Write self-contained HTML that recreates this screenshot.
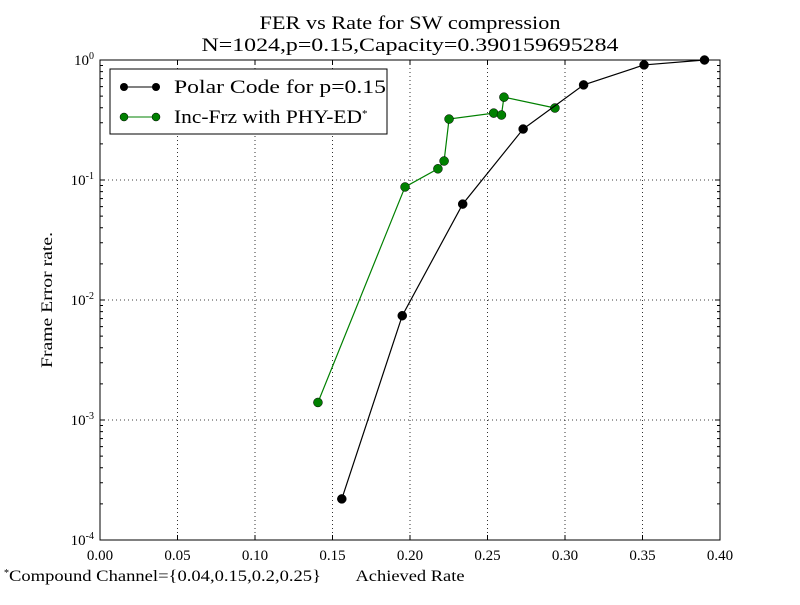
<!DOCTYPE html>
<html><head><meta charset="utf-8"><style>
body{margin:0;background:#fff;}
svg text{font-family:"Liberation Serif",serif;fill:#000;}
</style></head><body>
<svg id="chart" width="800" height="600" xmlns="http://www.w3.org/2000/svg">
<rect width="800" height="600" fill="#fff"/>
<text x="410" y="29" font-size="19" text-anchor="middle" textLength="301" lengthAdjust="spacingAndGlyphs">FER vs Rate for SW compression</text>
<text x="410" y="51" font-size="19" text-anchor="middle" textLength="417" lengthAdjust="spacingAndGlyphs">N=1024,p=0.15,Capacity=0.390159695284</text>
<g id="grid"></g>
<g id="ticks"></g>
<g id="series"></g>
<rect x="100" y="60" width="620" height="480" fill="none" stroke="#000" stroke-width="1"/>
<text transform="translate(52,300) rotate(-90)" font-size="16" text-anchor="middle" textLength="136" lengthAdjust="spacingAndGlyphs">Frame Error rate.</text>
<text x="410" y="581" font-size="16" text-anchor="middle" textLength="109" lengthAdjust="spacingAndGlyphs">Achieved Rate</text>
<text x="4" y="581" font-size="16"><tspan font-size="10" dy="-5">*</tspan><tspan dy="5" textLength="312" lengthAdjust="spacingAndGlyphs">Compound Channel={0.04,0.15,0.2,0.25}</tspan></text>
<g>
<rect x="110" y="69" width="277" height="65" fill="#fff" stroke="#000"/>
<g>
<line x1="120" y1="87" x2="160" y2="87" stroke="#000"/><circle cx="124" cy="87" r="4" fill="#000"/><circle cx="156" cy="87" r="4" fill="#000"/>
<text x="174" y="93" font-size="19" textLength="212" lengthAdjust="spacingAndGlyphs">Polar Code for p=0.15</text></g>
<g>
<line x1="120" y1="117" x2="160" y2="117" stroke="#008000"/><circle cx="124" cy="117" r="4" fill="#008000" stroke="#000" stroke-width="0.5"/><circle cx="156" cy="117" r="4" fill="#008000" stroke="#000" stroke-width="0.5"/>
<text x="174" y="123" font-size="19"><tspan textLength="188" lengthAdjust="spacingAndGlyphs">Inc-Frz with PHY-ED</tspan><tspan font-size="11" dy="-6">*</tspan></text></g>
</g>
</svg>
<script>
const xTicks=[0,0.05,0.10,0.15,0.20,0.25,0.30,0.35,0.40];
const xTickLabels=["0.00","0.05","0.10","0.15","0.20","0.25","0.30","0.35","0.40"];
const yExps=[0,-1,-2,-3,-4];
const polarX=[0.156,0.195,0.234,0.273,0.312,0.351,0.39];
const polarY=[2.2e-4,7.4e-3,0.063,0.266,0.62,0.91,1.0];
const incX=[0.1406,0.1968,0.218,0.222,0.2252,0.254,0.259,0.2606,0.2935];
const incY=[1.4e-3,0.0875,0.124,0.144,0.322,0.361,0.348,0.49,0.398];

const NS="http://www.w3.org/2000/svg";
const X0=100,X1=720,Y0=60,Y1=540;
function sx(v){return X0+(v-0)/(0.4-0)*(X1-X0);}
function sy(v){return Y0+(0-Math.log10(v))/4*(Y1-Y0);}
function mk(tag,attrs,parent){const e=document.createElementNS(NS,tag);for(const k in attrs)e.setAttribute(k,attrs[k]);parent.appendChild(e);return e;}
const grid=document.getElementById('grid'),ticks=document.getElementById('ticks'),series=document.getElementById('series');
xTicks.forEach((t,i)=>{const x=sx(t);
 if(i>0&&i<xTicks.length-1){const g=mk('line',{x1:x,y1:Y0,x2:x,y2:Y1,stroke:'#000','stroke-dasharray':'1,3','stroke-width':0.8},grid);
 
 }
 mk('line',{x1:x,y1:Y1,x2:x,y2:Y1-5,stroke:'#000'},ticks);
 mk('line',{x1:x,y1:Y0,x2:x,y2:Y0+5,stroke:'#000'},ticks);
 const l=mk('text',{x:x,y:Y1+20,'font-size':15,'text-anchor':'middle'},ticks);l.textContent=xTickLabels[i];
 
 
});
yExps.forEach((e,i)=>{const y=sy(Math.pow(10,e));
 if(i>0&&i<yExps.length-1){const g=mk('line',{x1:X0,y1:y,x2:X1,y2:y,stroke:'#000','stroke-dasharray':'1,3','stroke-width':0.8},grid);
 
 }
 mk('line',{x1:X0,y1:y,x2:X0+5,y2:y,stroke:'#000'},ticks);
 mk('line',{x1:X1,y1:y,x2:X1-5,y2:y,stroke:'#000'},ticks);
 if(e>-4){for(let m=2;m<10;m++){const yy=sy(m*Math.pow(10,e-1));
  mk('line',{x1:X0,y1:yy,x2:X0+3,y2:yy,stroke:'#000'},ticks);mk('line',{x1:X1,y1:yy,x2:X1-3,y2:yy,stroke:'#000'},ticks);}}
 const l=mk('text',{x:X0-6,y:y+5,'font-size':15,'text-anchor':'end'},ticks);
 const a=mk('tspan',{},l);a.textContent='10';const b=mk('tspan',{dy:-6,'font-size':10},l);b.textContent=String(e);
 
 
});
function draw(xs,ys,color,name){
 const pts=xs.map((x,i)=>sx(x)+','+sy(ys[i])).join(' ');
 const pl=mk('polyline',{points:pts,fill:'none',stroke:color,'stroke-width':1.2},series);
 
 
 xs.forEach((x,i)=>{const c=mk('circle',{cx:sx(x),cy:sy(ys[i]),r:4.5,fill:color,stroke:'#000','stroke-width':0.5},series);
 
 });
}
draw(incX,incY,'#008000','inc-frz');
draw(polarX,polarY,'#000000','polar');
</script>
</body></html>
